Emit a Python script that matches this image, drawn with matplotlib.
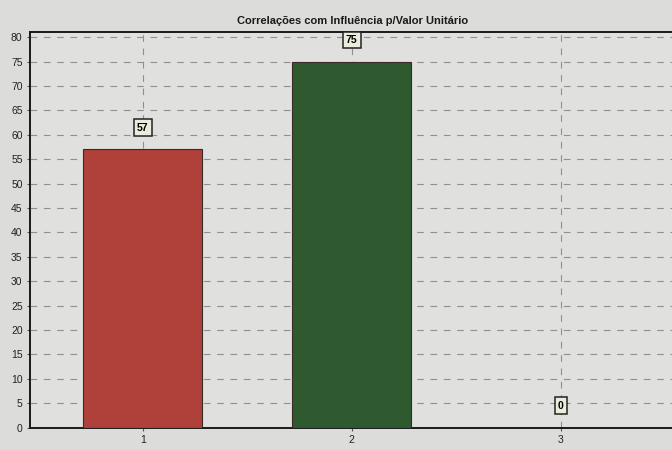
import matplotlib
matplotlib.use("Agg")
import matplotlib.pyplot as plt

categories = ["1", "2", "3"]
values = [57, 75, 0]
bar_colors = ["#b0403a", "#2f5a30", "#888888"]
y_ticks = list(range(0, 81, 5))

plt.rcParams["font.family"] = ["Liberation Sans", "DejaVu Sans"]

fig = plt.figure(figsize=(6.72, 4.5), dpi=100)
fig.patch.set_facecolor("#dcdcda")
ax = fig.add_axes([0.045, 0.05, 0.96, 0.878])
ax.set_facecolor("#e0e0de")

x = list(range(1, len(categories) + 1))
ax.bar(x, values, width=0.57, color=bar_colors, edgecolor="#3a2a25",
       linewidth=0.8, zorder=3)

for xi, v in zip(x, values):
    ax.text(xi, v + 4.5, str(v), ha="center", va="center", fontsize=7.5,
            fontweight="bold", zorder=4,
            bbox=dict(boxstyle="square,pad=0.3", facecolor="#ececdc",
                      edgecolor="#222222", linewidth=1.1))

ax.set_xlim(0.46, 3.55)
ax.set_ylim(0, 81)
ax.set_xticks(x)
ax.set_xticklabels(categories)
ax.set_yticks(y_ticks)
ax.tick_params(axis="both", labelsize=7.5, length=2, color="#555555",
               labelcolor="#222222")
ax.grid(True, linestyle=(0, (6, 6)), color="#909090", linewidth=0.8, zorder=0)

for side in ["left", "bottom", "top"]:
    ax.spines[side].set_color("#1a1a1a")
    ax.spines[side].set_linewidth(1.4)
ax.spines["right"].set_visible(False)

ax.set_title("Correlações com Influência p/Valor Unitário", fontsize=8,
             fontweight="bold", color="#1a1a1a", pad=6)

fig.savefig("out.png", dpi=100, facecolor=fig.get_facecolor())
